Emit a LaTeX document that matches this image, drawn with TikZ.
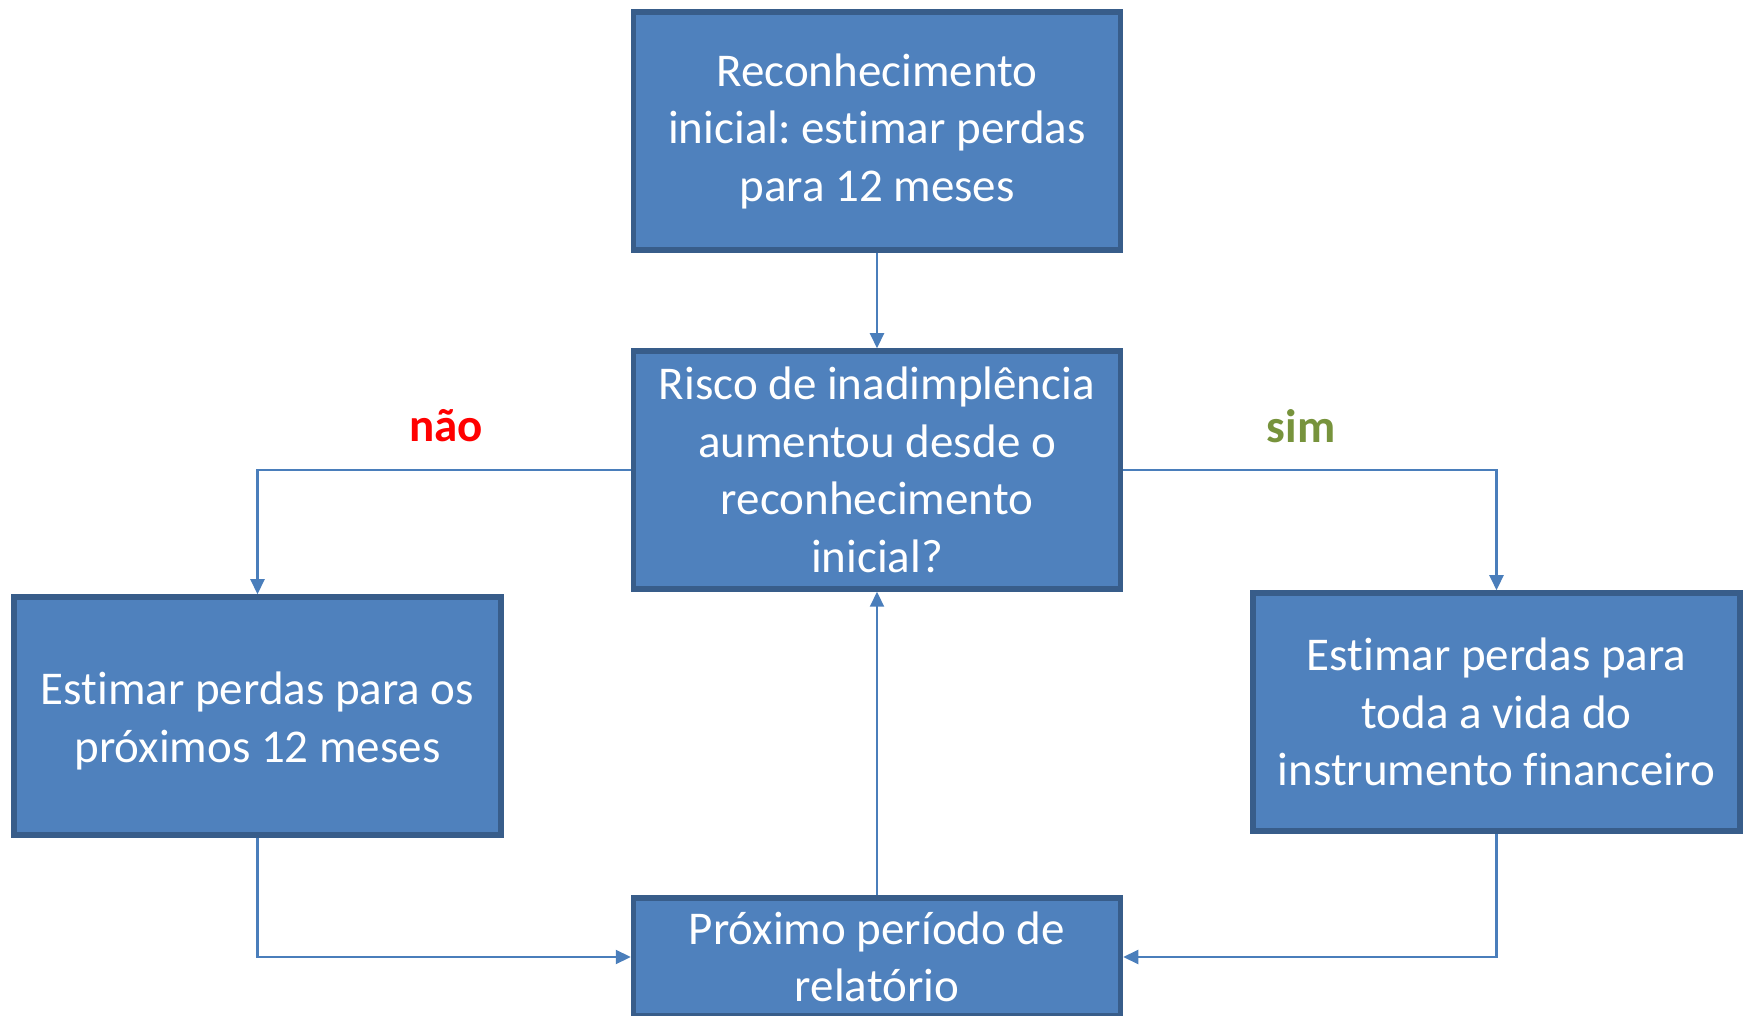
\documentclass[tikz,border=0pt]{standalone}
\usepackage{fontspec}
\usepackage{calc}
\setmainfont{Carlito}[Ligatures=NoCommon, Contextuals=NoAlternate, RawFeature={-liga;-clig;-dlig;-calt}]
\frenchspacing
\usetikzlibrary{positioning,arrows.meta}
\definecolor{caixaazul}{HTML}{4F81BD}
\definecolor{bordaazul}{HTML}{385D8A}
\definecolor{setaazul}{HTML}{4A7EBB}
\definecolor{simverde}{HTML}{77933C}

\begin{document}
\begin{tikzpicture}[
  x=1pt, y=1pt,
  blk/.style={draw=bordaazul, fill=caixaazul, line width=5.5pt, text=white,
    align=center, minimum width=487pt, minimum height=238pt, inner sep=0pt},
  seta/.style={draw=setaazul, line width=2.2pt, -{Triangle[length=15pt, width=14pt]}},
  lbl/.style={font=\fontsize{47}{57.5}\selectfont\bfseries},
  font=\fontsize{47}{57.5}\selectfont,
]

% page frame (1748 x 1015)
\clip (0,0) rectangle (1748,1015);

% geometry
\def\xm{877}      % centre column
\def\xl{257.5}    % left column
\def\xr{1496.5}   % right column

% ============ boxes ============
\node[blk] (inicio) at (\xm,884) {Reconhecimento\\inicial: estimar perdas\\para 12 meses};
\node[blk] (risco) at (\xm,545) {Risco de inadimplência\\aumentou desde o\\reconhecimento\\inicial?};
\node[blk] (doze) at (\xl,299) {\raisebox{0pt}[\height+10pt][\depth]{\parbox{480pt}{\centering Estimar perdas para os\\próximos 12 meses}}};
\node[blk] (vida) at (\xr,303) {Estimar perdas para\\toda a vida do\\instrumento financeiro};
\node[blk, minimum height=118pt] (proximo) at (\xm,58) {Próximo período de\\relatório};

% ============ decision labels ============
\node[lbl, text=red] (nao) at (446,589) {não};
\node[lbl, text=simverde] (sim) at (1301,589) {sim};

% ============ connectors ============
\draw[seta] (inicio.south) -- (risco.north);
\draw[seta] (risco.west) -| (doze.north);
\draw[seta] (risco.east) -| (vida.north);
\draw[seta] (doze.south) |- (proximo.west);
\draw[seta] (vida.south) |- (proximo.east);
\draw[seta] (proximo.north) -- (risco.south);

\end{tikzpicture}
\end{document}
